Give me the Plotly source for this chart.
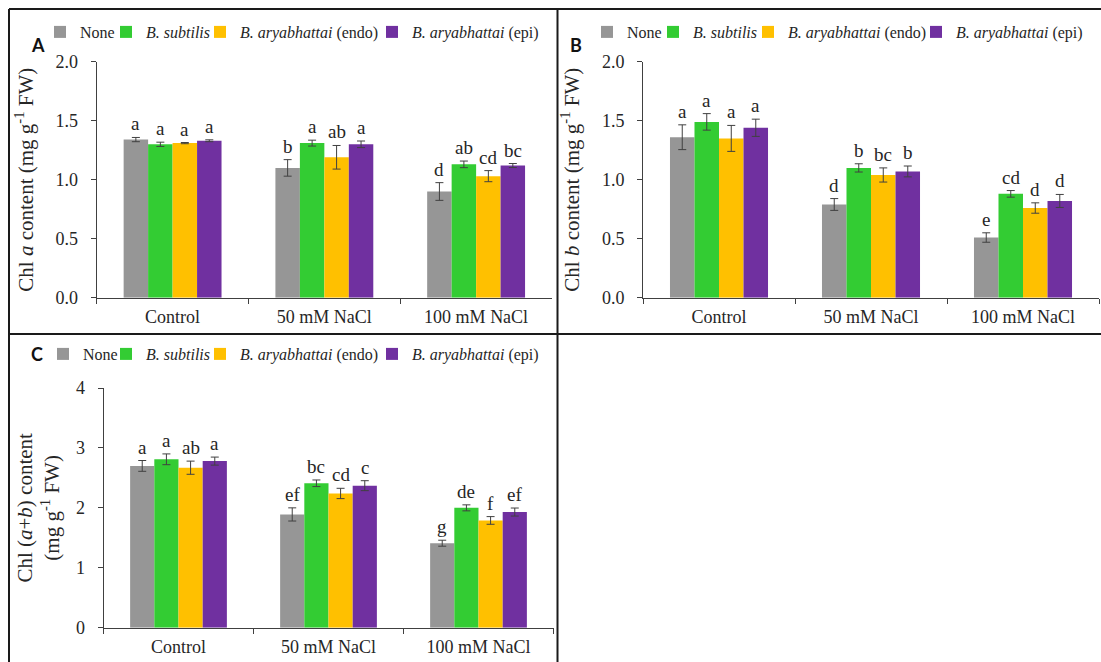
import plotly.graph_objects as go

# ---------------- data ----------------
categories = ["Control", "50 mM NaCl", "100 mM NaCl"]
series_names = ["None", "<i>B. subtilis</i>", "<i>B. aryabhattai</i> (endo)", "<i>B. aryabhattai</i> (epi)"]
colors = ["#969696", "#33CC33", "#FFC000", "#7030A0"]

# Panel A: Chl a content
chla_none = [1.34, 1.10, 0.90]
chla_sub = [1.30, 1.31, 1.13]
chla_endo = [1.31, 1.19, 1.03]
chla_epi = [1.33, 1.30, 1.12]
chla_none_err = [0.018, 0.070, 0.075]
chla_sub_err = [0.018, 0.025, 0.028]
chla_endo_err = [0.005, 0.100, 0.047]
chla_epi_err = [0.008, 0.028, 0.017]
chla_none_let = ["a", "b", "d"]
chla_sub_let = ["a", "a", "ab"]
chla_endo_let = ["a", "ab", "cd"]
chla_epi_let = ["a", "a", "bc"]

# Panel B: Chl b content
chlb_none = [1.36, 0.79, 0.51]
chlb_sub = [1.49, 1.10, 0.88]
chlb_endo = [1.35, 1.04, 0.76]
chlb_epi = [1.44, 1.07, 0.82]
chlb_none_err = [0.105, 0.050, 0.040]
chlb_sub_err = [0.070, 0.035, 0.028]
chlb_endo_err = [0.110, 0.060, 0.044]
chlb_epi_err = [0.073, 0.046, 0.055]
chlb_none_let = ["a", "d", "e"]
chlb_sub_let = ["a", "b", "cd"]
chlb_endo_let = ["a", "bc", "d"]
chlb_epi_let = ["a", "b", "d"]

# Panel C: Chl (a+b) content
chlab_none = [2.70, 1.89, 1.41]
chlab_sub = [2.81, 2.41, 2.00]
chlab_endo = [2.67, 2.24, 1.79]
chlab_epi = [2.78, 2.37, 1.93]
chlab_none_err = [0.090, 0.110, 0.050]
chlab_sub_err = [0.090, 0.055, 0.050]
chlab_endo_err = [0.110, 0.086, 0.064]
chlab_epi_err = [0.067, 0.083, 0.067]
chlab_none_let = ["a", "ef", "g"]
chlab_sub_let = ["a", "bc", "de"]
chlab_endo_let = ["ab", "cd", "f"]
chlab_epi_let = ["a", "c", "ef"]

panels = [
    dict(axis="", vals=[chla_none, chla_sub, chla_endo, chla_epi],
         errs=[chla_none_err, chla_sub_err, chla_endo_err, chla_epi_err],
         lets=[chla_none_let, chla_sub_let, chla_endo_let, chla_epi_let]),
    dict(axis="2", vals=[chlb_none, chlb_sub, chlb_endo, chlb_epi],
         errs=[chlb_none_err, chlb_sub_err, chlb_endo_err, chlb_epi_err],
         lets=[chlb_none_let, chlb_sub_let, chlb_endo_let, chlb_epi_let]),
    dict(axis="3", vals=[chlab_none, chlab_sub, chlab_endo, chlab_epi],
         errs=[chlab_none_err, chlab_sub_err, chlab_endo_err, chlab_epi_err],
         lets=[chlab_none_let, chlab_sub_let, chlab_endo_let, chlab_epi_let]),
]

# ---------------- styling / layout ----------------
W, H = 1101, 662
SERIF = "Liberation Serif"
TXT = "#262626"
AXC = "#404040"
BARGAP = 0.355

# legend entry text start (px) per panel, and legend row centre (px)
legend_text_x = [[80, 146, 240, 412], [627, 693, 788, 956], [83, 146, 240, 412]]
legend_row_y = [32, 32, 354]

fig = go.Figure()
annotations = []
legends = {}

for pi, p in enumerate(panels):
    xa = "x" + p["axis"]
    ya = "y" + p["axis"]
    for i in range(4):
        k = pi * 4 + i + 1
        lname = "legend" if k == 1 else "legend%d" % k
        legends[lname] = dict(
            orientation="h", x=(legend_text_x[pi][i] - 40) / W, y=1 - legend_row_y[pi] / H,
            xanchor="left", yanchor="middle", bgcolor="rgba(0,0,0,0)", borderwidth=0,
            itemwidth=30, font=dict(family=SERIF, size=16, color=TXT))
        fig.add_trace(go.Bar(
            x=categories, y=p["vals"][i], name=series_names[i],
            marker=dict(color=colors[i], line=dict(width=0)),
            error_y=dict(type="data", array=p["errs"][i], color=AXC, thickness=1, width=4),
            xaxis=xa, yaxis=ya, legend=lname,
        ))
        for j in range(3):
            off = -(1 - BARGAP) / 2 + (i + 0.5) * (1 - BARGAP) / 4
            annotations.append(dict(
                x=j + off, y=p["vals"][i][j] + p["errs"][i][j], xref=xa, yref=ya,
                text=p["lets"][i][j], showarrow=False, yanchor="bottom", yshift=1,
                font=dict(family=SERIF, size=19, color=TXT),
            ))

# panel letters
for lab, px, py in [("A", 29, 32), ("B", 576, 32), ("C", 29, 354)]:
    annotations.append(dict(x=px / W, y=1 - py / H, xref="paper", yref="paper",
                            text="<b>%s</b>" % lab, showarrow=False,
                            font=dict(family="Lato", size=18, color="#111111")))


def xaxis(dom, anchor):
    return dict(domain=dom, anchor=anchor, type="category", showline=True, linecolor=AXC,
                linewidth=1, ticks="outside", tickson="boundaries", ticklen=5, tickcolor=AXC,
                showgrid=False, zeroline=False, ticklabelstandoff=3, automargin=False,
                tickfont=dict(family=SERIF, size=18, color=TXT), fixedrange=True)


def yaxis(dom, anchor, rng, dt, fmt, title, standoff):
    return dict(domain=dom, anchor=anchor, range=rng, dtick=dt, tick0=0, tickformat=fmt,
                showline=True, linecolor=AXC, linewidth=1, ticks="outside", ticklen=5,
                tickcolor=AXC, showgrid=False, zeroline=False, ticklabelstandoff=9,
                automargin=False,
                tickfont=dict(family=SERIF, size=18, color=TXT),
                title=dict(text=title, standoff=standoff,
                           font=dict(family=SERIF, size=21, color=TXT)),
                fixedrange=True)


yd_top = [1 - 297.7 / H, 1 - 61.7 / H]
yd_bot = [1 - 627.7 / H, 1 - 388.0 / H]

# panel frame lines
FR = dict(color="#1a1a1a", width=2)
shapes = [
    dict(type="line", xref="paper", yref="paper", x0=9 / W, x1=1, y0=1 - 9 / H, y1=1 - 9 / H, line=FR),
    dict(type="line", xref="paper", yref="paper", x0=9 / W, x1=1, y0=1 - 334 / H, y1=1 - 334 / H, line=FR),
    dict(type="line", xref="paper", yref="paper", x0=9 / W, x1=9 / W, y0=0, y1=1 - 9 / H, line=FR),
    dict(type="line", xref="paper", yref="paper", x0=557.5 / W, x1=557.5 / W, y0=0, y1=1 - 9 / H, line=FR),
]

fig.update_layout(
    width=W, height=H, autosize=False,
    margin=dict(l=0, r=0, t=0, b=0, autoexpand=False),
    paper_bgcolor="white", plot_bgcolor="white",
    barmode="group", bargap=BARGAP, bargroupgap=0,
    font=dict(family=SERIF, color=TXT),
    xaxis=xaxis([96.7 / W, 552 / W], "y"),
    xaxis2=xaxis([643 / W, 1099 / W], "y2"),
    xaxis3=xaxis([103.5 / W, 553.5 / W], "y3"),
    yaxis=yaxis(yd_top, "x", [0, 2], 0.5, ".1f", "Chl <i>a</i> content (mg g<sup>-1</sup> FW)", 16),
    yaxis2=yaxis(yd_top, "x2", [0, 2], 0.5, ".1f", "Chl <i>b</i> content (mg g<sup>-1</sup> FW)", 16),
    yaxis3=yaxis(yd_bot, "x3", [0, 4], 1, "d",
                 "Chl (<i>a</i>+<i>b</i>) content<br>(mg g<sup>-1</sup> FW)", 10),
    annotations=annotations,
    shapes=shapes,
    showlegend=True,
    **legends,
)

fig.write_html("out.html", config={"displayModeBar": False},
               post_script="document.body.style.margin='0px';document.body.style.overflow='hidden';")
